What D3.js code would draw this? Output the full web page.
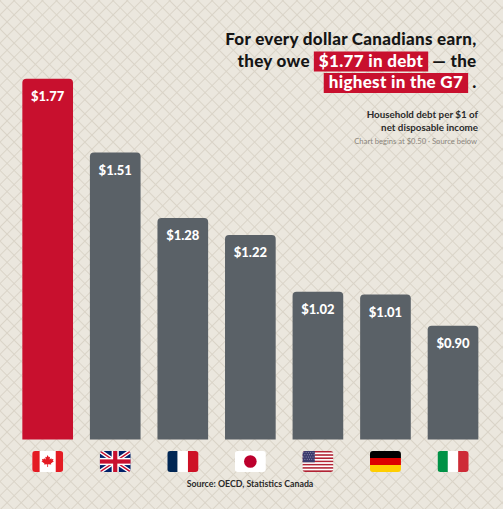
<!DOCTYPE html>
<html>
<head>
<meta charset="utf-8">
<script src="https://cdn.jsdelivr.net/npm/d3@7"></script>
<style>
  html, body { margin: 0; padding: 0; background: #ebe7de; }
  svg { display: block; font-family: Lato, "Open Sans", sans-serif; }
</style>
</head>
<body>
<svg id="chart" width="503" height="509"></svg>
<script>
const countries = ["Canada", "United Kingdom", "France", "Japan", "United States", "Germany", "Italy"];
const flagCodes = ["ca", "gb", "fr", "jp", "us", "de", "it"];
const debtPerDollar = [1.77, 1.51, 1.28, 1.22, 1.02, 1.01, 0.90];
const axisStart = 0.50; // chart begins at $0.50

const titleLines = [
    [{ text: "For every dollar Canadians earn," }],
    [{ text: "they owe" }, { text: "$1.77 in debt", hl: true }, { text: "— the" }],
    [{ text: "highest in the G7", hl: true }, { text: "." }]
];
const subtitleLines = ["Household debt per $1 of", "net disposable income"];
const noteText = "Chart begins at $0.50 · Source below";
const sourceText = "Source: OECD, Statistics Canada";

const RED = "#c8102e";
const GREY = "#5a6167";

function draw() {
    const svg = d3.select("#chart");
    const W = 503, H = 509;

    // background crosshatch
    const defs = svg.append("defs");
    const pat = defs.append("pattern").attr("id", "hatch")
        .attr("width", 10).attr("height", 10)
        .attr("patternUnits", "userSpaceOnUse")
        .attr("patternTransform", "rotate(45)");
    pat.append("rect").attr("width", 10).attr("height", 10).attr("fill", "#ebe7de");
    pat.append("path").attr("d", "M0,0.5H10M0.5,0V10")
        .attr("stroke", "#dad4c8").attr("stroke-width", 1);
    svg.append("rect").attr("width", W).attr("height", H).attr("fill", "url(#hatch)");

    const x = d3.scaleBand().domain(countries)
        .range([13.9, 486.8]).paddingInner(0.25).paddingOuter(0.125);
    const y = d3.scaleLinear().domain([axisStart, 1.8]).range([439.5, 70.2]);
    const maxVal = d3.max(debtPerDollar);

    const data = countries.map((c, i) => ({ country: c, code: flagCodes[i], value: debtPerDollar[i] }));

    function topRounded(x0, y0, w, h, r) {
        return `M${x0},${y0 + h}V${y0 + r}Q${x0},${y0} ${x0 + r},${y0}H${x0 + w - r}Q${x0 + w},${y0} ${x0 + w},${y0 + r}V${y0 + h}Z`;
    }

    const bars = svg.append("g").selectAll("g").data(data).enter().append("g");
    bars.append("path")
        .attr("d", d => topRounded(x(d.country), y(d.value), x.bandwidth(), y(axisStart) - y(d.value), 4))
        .attr("fill", d => d.value === maxVal ? RED : GREY);
    bars.append("text")
        .attr("x", d => x(d.country) + x.bandwidth() / 2)
        .attr("y", d => y(d.value) + 22.5)
        .attr("text-anchor", "middle")
        .attr("fill", "#fff").attr("font-weight", 900).attr("font-size", 13)
        .text(d => `$${d.value.toFixed(2)}`);

    // flags
    const fw = 31, fh = 21;
    const flags = svg.append("g").selectAll("g").data(data).enter().append("g")
        .attr("transform", d => `translate(${x(d.country) + x.bandwidth() / 2 - fw / 2},451)`);
    flags.each(function (d) {
        const g = d3.select(this);
        const id = `clip-${d.code}`;
        defs.append("clipPath").attr("id", id)
            .append("rect").attr("width", fw).attr("height", fh).attr("rx", 3);
        const f = g.append("g").attr("clip-path", `url(#${id})`);
        drawFlag(f, d.code, fw, fh);
    });

    // title
    const title = svg.append("g").attr("font-weight", 900).attr("font-size", 17)
        .attr("letter-spacing", 0.3).attr("fill", "#151515");
    const baselines = [45, 66.5, 88];
    const pad = 5, gap = 4, right = 476.5;
    titleLines.forEach((segs, li) => {
        const by = baselines[li];
        const nodes = segs.map(s => title.append("text").attr("y", by).text(s.text));
        const widths = nodes.map(n => n.node().getComputedTextLength());
        let total = 0;
        segs.forEach((s, i) => { total += widths[i] + (s.hl ? pad * 2 : 0) + (i > 0 ? gap : 0); });
        let cx = right - total;
        segs.forEach((s, i) => {
            if (i > 0) cx += gap;
            if (s.hl) {
                title.insert("rect", "text").attr("x", cx).attr("y", by - 15)
                    .attr("width", widths[i] + pad * 2).attr("height", 20).attr("fill", RED);
                nodes[i].attr("x", cx + pad).attr("fill", "#fff");
                cx += widths[i] + pad * 2;
            } else {
                nodes[i].attr("x", cx);
                cx += widths[i];
            }
        });
    });

    // subtitle + note
    svg.append("g").attr("text-anchor", "end").attr("font-weight", 700)
        .attr("font-size", 9.8).attr("fill", "#2a2a2a")
        .selectAll("text").data(subtitleLines).enter().append("text")
        .attr("x", 478).attr("y", (d, i) => 118 + i * 12.8).text(d => d);
    svg.append("text").attr("x", 477).attr("y", 143.5).attr("text-anchor", "end")
        .attr("font-size", 7.6).attr("fill", "#8a857c").text(noteText);

    svg.append("text").attr("x", 250).attr("y", 487).attr("text-anchor", "middle")
        .attr("font-size", 8.8).attr("font-weight", 700).attr("fill", "#2a2a2a").text(sourceText);
}

function drawFlag(g, code, w, h) {
    const rect = (x0, y0, rw, rh, c) => g.append("rect").attr("x", x0).attr("y", y0).attr("width", rw).attr("height", rh).attr("fill", c);
    if (code === "ca") {
        rect(0, 0, w, h, "#fff");
        rect(0, 0, w * 0.24, h, "#e41b23");
        rect(w * 0.76, 0, w * 0.24, h, "#e41b23");
        const leaf = "M0,-1L0.17,-0.66L0.36,-0.74L0.3,-0.3L0.6,-0.52L0.55,-0.36L0.9,-0.4L0.78,-0.16L0.95,-0.05L0.5,0.3L0.55,0.48L0.06,0.42L0.06,0.85L-0.06,0.85L-0.06,0.42L-0.55,0.48L-0.5,0.3L-0.95,-0.05L-0.78,-0.16L-0.9,-0.4L-0.55,-0.36L-0.6,-0.52L-0.3,-0.3L-0.36,-0.74L-0.17,-0.66Z";
        g.append("path").attr("d", leaf).attr("fill", "#e41b23")
            .attr("transform", `translate(${w / 2},${h / 2}) scale(6.5)`);
    } else if (code === "gb") {
        rect(0, 0, w, h, "#012169");
        const diag = `M0,0L${w},${h}M${w},0L0,${h}`;
        g.append("path").attr("d", diag).attr("stroke", "#fff").attr("stroke-width", h * 0.2);
        g.append("path").attr("d", diag).attr("stroke", "#c8102e").attr("stroke-width", h * 0.07);
        rect(w / 2 - h * 0.17, 0, h * 0.34, h, "#fff");
        rect(0, h / 2 - h * 0.17, w, h * 0.34, "#fff");
        rect(w / 2 - h * 0.1, 0, h * 0.2, h, "#c8102e");
        rect(0, h / 2 - h * 0.1, w, h * 0.2, "#c8102e");
    } else if (code === "fr") {
        rect(0, 0, w / 3, h, "#002654");
        rect(w / 3, 0, w / 3, h, "#fff");
        rect(w * 2 / 3, 0, w / 3 + 1, h, "#ce1126");
    } else if (code === "jp") {
        rect(0, 0, w, h, "#fff");
        g.append("circle").attr("cx", w / 2).attr("cy", h / 2).attr("r", h * 0.3).attr("fill", "#bc002d");
    } else if (code === "us") {
        const sh = h / 13;
        d3.range(13).forEach(i => rect(0, i * sh, w, sh + 0.1, i % 2 ? "#fff" : "#b22234"));
        rect(0, 0, w * 0.4, sh * 7, "#3c3b6e");
        for (let r = 0; r < 4; r++) for (let c = 0; c < 5; c++) {
            g.append("circle").attr("cx", 1.4 + c * 2.3 + (r % 2) * 1.1).attr("cy", 1.4 + r * 2.3)
                .attr("r", 0.45).attr("fill", "#fff").attr("opacity", 0.8);
        }
    } else if (code === "de") {
        rect(0, 0, w, h / 3, "#000");
        rect(0, h / 3, w, h / 3, "#dd0000");
        rect(0, h * 2 / 3, w, h / 3 + 1, "#ffce00");
    } else if (code === "it") {
        rect(0, 0, w / 3, h, "#009246");
        rect(w / 3, 0, w / 3, h, "#fff");
        rect(w * 2 / 3, 0, w / 3 + 1, h, "#ce2b37");
    }
}

if (document.fonts && document.fonts.ready) {
    document.fonts.ready.then(draw);
} else {
    draw();
}
</script>
</body>
</html>
